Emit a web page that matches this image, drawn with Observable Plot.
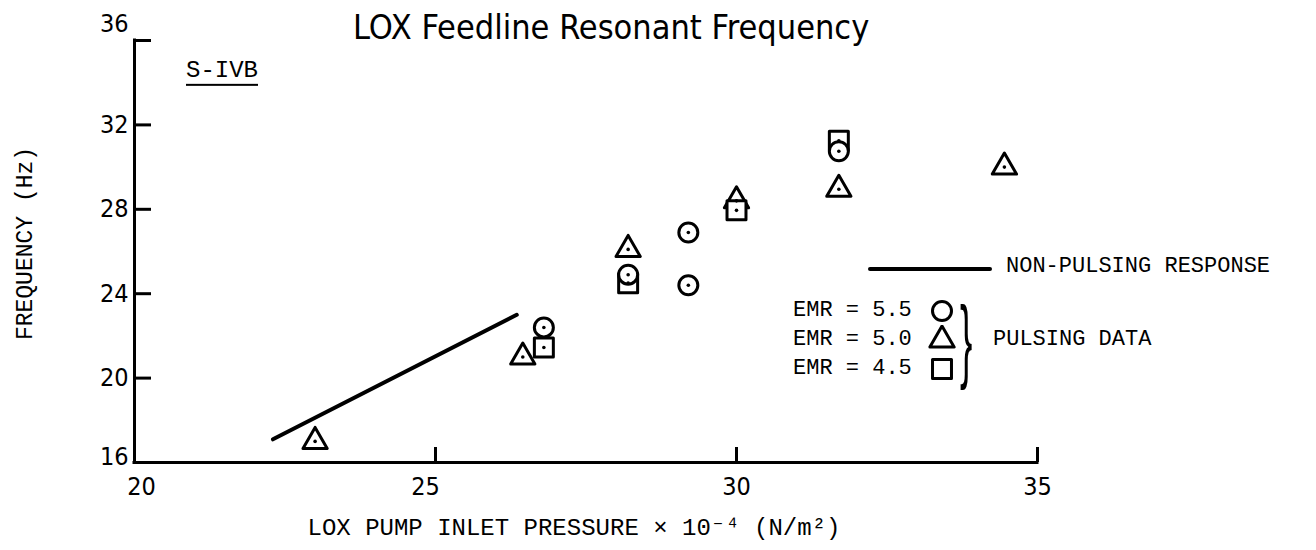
<!DOCTYPE html>
<html>
<head>
<meta charset="utf-8">
<script src="https://cdn.jsdelivr.net/npm/d3@7"></script>
<script src="https://cdn.jsdelivr.net/npm/@observablehq/plot@0.6"></script>
<style>
  body { margin: 0; background: #fff; }
  #wrap { position: relative; width: 1316px; height: 550px; overflow: hidden; background: #fff; }
  #wrap > svg { position: absolute; left: 0; top: 0; }
  .t { position: absolute; line-height: 1; white-space: pre; color: #000; transform: translateY(-50%); }
  .mono { font-family: "Liberation Mono", "DejaVu Sans Mono", monospace; }
  .narrow { font-family: "Liberation Sans Narrow", "DejaVu Sans Condensed", "Liberation Sans", sans-serif; }
  .sym { position: absolute; transform: translate(-50%, -50%); }
  [aria-label="y-axis label"] text, [aria-label="x-axis label"] text {
    font-family: "Liberation Mono", "DejaVu Sans Mono", monospace;
  }
  [aria-label="y-axis label"] text { font-size: 23px; }
  [aria-label="x-axis label"] text { font-size: 24px; }
  [aria-label="y-axis label"] { translate: 0 -8px; }
  [aria-label="x-axis label"] { translate: -12px 0; }
</style>
</head>
<body>
<div id="wrap"></div>
<script>
// ---- data ----
const EMR55_X = [26.8, 28.2, 29.2, 29.2, 31.7];
const EMR55_Y = [22.4, 24.9, 26.9, 24.4, 30.75];
const EMR50_X = [23.0, 26.45, 28.2, 30.0, 31.7, 34.45];
const EMR50_Y = [17.0, 21.0, 26.1, 28.4, 28.95, 30.0];
const EMR45_X = [26.8, 28.2, 30.0, 31.7];
const EMR45_Y = [21.45, 24.5, 27.95, 31.25];
const NONPULSE_X = [22.3, 26.35];
const NONPULSE_Y = [17.1, 23.0];
const X_TICKS = [20, 25, 30, 35];
const Y_TICKS = [16, 20, 24, 28, 32, 36];
const SERIES = ["EMR = 5.5", "EMR = 5.0", "EMR = 4.5"];
const SYMBOLS = ["circle", "triangle", "square"];

const TITLE = "LOX Feedline Resonant Frequency";
const SUBTITLE = "S-IVB";
const X_LABEL = "LOX PUMP INLET PRESSURE \u00d7 10\u207b\u2074 (N/m\u00b2)";
const Y_LABEL = "FREQUENCY (Hz)";

// ---- build tables ----
const pts = (xs, ys, s) => xs.map((x, i) => ({x, y: ys[i], series: s}));
const d55 = pts(EMR55_X, EMR55_Y, SERIES[0]);
const d50 = pts(EMR50_X, EMR50_Y, SERIES[1]);
const d45 = pts(EMR45_X, EMR45_Y, SERIES[2]);
const lineData = NONPULSE_X.map((x, i) => ({x, y: NONPULSE_Y[i]}));

const W = 1316, H = 550;
const mL = 134, mR = 279, mT = 40, mB = 88;
const plotW = W - mL - mR, plotH = H - mT - mB;
const R = {circle: 9.5, triangle: 9, square: 10.7};
const tickFont = '"Liberation Sans Narrow", "DejaVu Sans Condensed", "Liberation Sans", sans-serif';

const dotStyle = {stroke: "black", fill: "white", strokeWidth: 3, strokeLinejoin: "round"};

const chart = Plot.plot({
  width: W, height: H,
  marginLeft: mL, marginRight: mR, marginTop: mT, marginBottom: mB,
  x: {domain: [X_TICKS[0], X_TICKS[X_TICKS.length - 1]]},
  y: {domain: [Y_TICKS[0], Y_TICKS[Y_TICKS.length - 1]]},
  style: {background: "transparent", color: "black", overflow: "visible"},
  marks: [
    // axis lines
    Plot.ruleX([X_TICKS[0]], {stroke: "black", strokeWidth: 3, strokeLinecap: "square"}),
    Plot.ruleY([Y_TICKS[0]], {stroke: "black", strokeWidth: 3, strokeLinecap: "square"}),
    // inward ticks
    Plot.tickY(Y_TICKS.slice(1), {y: d => d, stroke: "black", strokeWidth: 3, insetRight: plotW - 17}),
    Plot.tickX(X_TICKS.slice(1), {x: d => d, stroke: "black", strokeWidth: 3, insetTop: plotH - 15}),
    // tick labels
    Plot.axisY({ticks: Y_TICKS.slice(1, -1), tickSize: 0, tickPadding: 6, fontSize: 25, fontFamily: tickFont, label: null}),
    Plot.axisY({ticks: [Y_TICKS[Y_TICKS.length - 1]], tickSize: 0, tickPadding: 6, fontSize: 25, fontFamily: tickFont, label: null, dy: -17}),
    Plot.axisY({ticks: [Y_TICKS[0]], tickSize: 0, tickPadding: 6, fontSize: 25, fontFamily: tickFont, label: null, dy: -6}),
    Plot.axisX({ticks: X_TICKS.slice(2), tickSize: 0, tickPadding: 15, fontSize: 25, fontFamily: tickFont, label: null}),
    Plot.axisX({ticks: [X_TICKS[0]], tickSize: 0, tickPadding: 15, fontSize: 25, fontFamily: tickFont, label: null, dx: 7}),
    Plot.axisX({ticks: [X_TICKS[1]], tickSize: 0, tickPadding: 15, fontSize: 25, fontFamily: tickFont, label: null, dx: -10}),
    // axis titles
    Plot.axisY({ticks: [], tickSize: 0, fontSize: 23, label: Y_LABEL, labelAnchor: "center", labelOffset: 119, labelArrow: "none"}),
    Plot.axisX({ticks: [], tickSize: 0, fontSize: 24, label: X_LABEL, labelAnchor: "center", labelOffset: 72, labelArrow: "none"}),
    // non-pulsing response
    Plot.line(lineData, {x: "x", y: "y", stroke: "black", strokeWidth: 4, strokeLinecap: "round"}),
    // pulsing data
    Plot.dot(d50, {x: "x", y: "y", symbol: "triangle", r: R.triangle, ...dotStyle}),
    Plot.dot(d45, {x: "x", y: "y", symbol: "square", r: R.square, ...dotStyle}),
    Plot.dot(d55, {x: "x", y: "y", symbol: "circle", r: R.circle, ...dotStyle}),
    Plot.dot([...d50, ...d45, ...d55], {x: "x", y: "y", r: 1.8, fill: "black"})
  ]
});

const wrap = document.getElementById("wrap");
wrap.appendChild(chart);

function addText(txt, cls, left, cy, size, extra = "") {
  const el = document.createElement("div");
  el.className = "t " + cls;
  el.textContent = txt;
  el.style.cssText += `left:${left}px;top:${cy}px;font-size:${size}px;${extra}`;
  wrap.appendChild(el);
  return el;
}

// title & subtitle
addText(TITLE, "narrow", 353, 27, 34);
addText(SUBTITLE, "mono", 186, 71, 24, "border-bottom:2px solid #000;padding-bottom:1px;transform:translateY(-45%);");

// legend: non-pulsing line
const ln = document.createElement("div");
ln.style.cssText = "position:absolute;left:868px;top:267px;width:124px;height:4px;background:#000;border-radius:2px;";
wrap.appendChild(ln);
addText("NON-PULSING RESPONSE", "mono", 1006, 267, 22);

// legend: pulsing data
const rowY = [311, 340, 369];
SERIES.forEach((s, i) => {
  addText(s, "mono", 793, rowY[i], 22);
  const sym = {circle: d3.symbolCircle, triangle: d3.symbolTriangle, square: d3.symbolSquare}[SYMBOLS[i]];
  const r = R[SYMBOLS[i]];
  const svg = d3.create("svg").attr("class", "sym").attr("width", 30).attr("height", 30)
    .attr("viewBox", "-15 -15 30 30")
    .style("left", "942px").style("top", rowY[i] + "px");
  svg.append("path").attr("d", d3.symbol(sym, Math.PI * r * r)())
    .attr("fill", "none").attr("stroke", "black").attr("stroke-width", 3).attr("stroke-linejoin", "round");
  wrap.appendChild(svg.node());
});
addText("}", "", 960, 339, 92, 'font-family:"Liberation Sans",sans-serif;transform:translateY(-50%) scaleX(0.4);transform-origin:left center;');
addText("PULSING DATA", "mono", 993, 340, 22);
</script>
</body>
</html>
